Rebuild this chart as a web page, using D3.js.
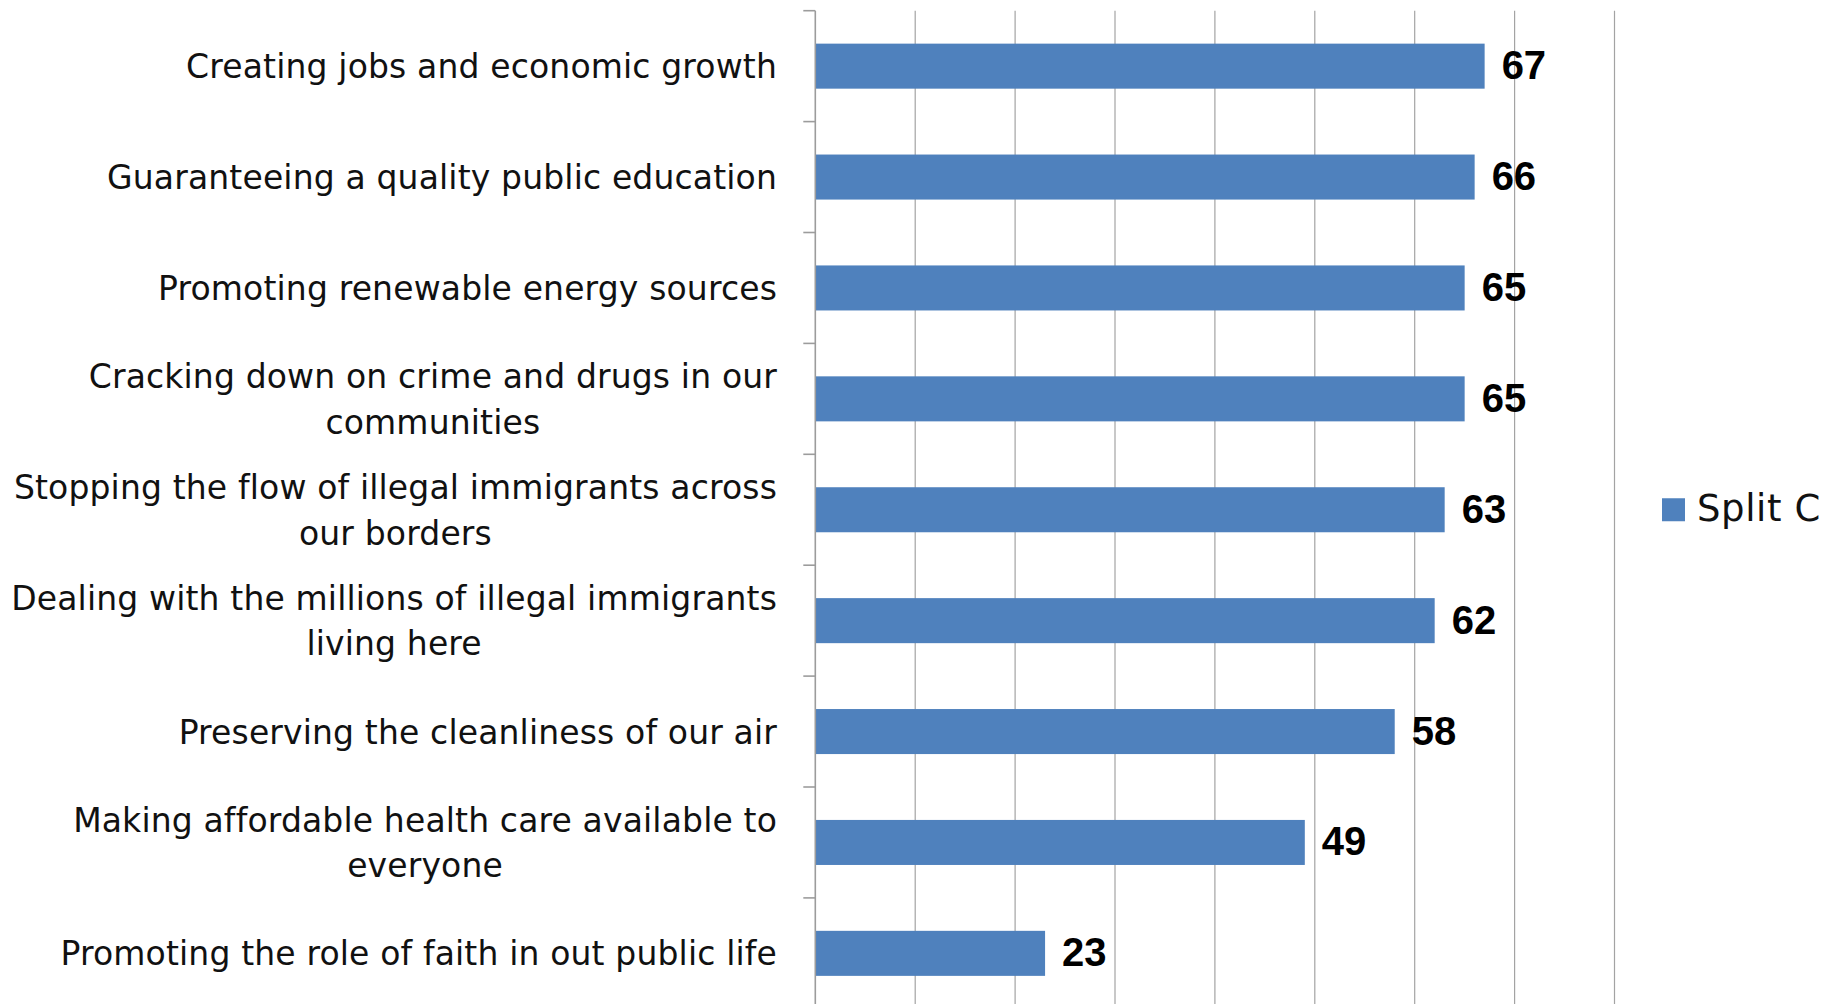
<!DOCTYPE html>
<html>
<head>
<meta charset="utf-8">
<script src="https://cdn.jsdelivr.net/npm/d3@7"></script>
<style>
  html, body { margin: 0; padding: 0; background: #fff; overflow: hidden; }
  svg { display: block; }
</style>
</head>
<body>
<svg id="chart" width="1839" height="1004"></svg>
<script>
// Issue priorities, share of respondents (Split C)
const categories = [
  "Creating jobs and economic growth",
  "Guaranteeing a quality public education",
  "Promoting renewable energy sources",
  "Cracking down on crime and drugs in our\ncommunities",
  "Stopping the flow of illegal immigrants across\nour borders",
  "Dealing with the millions of illegal immigrants\nliving here",
  "Preserving the cleanliness of our air",
  "Making affordable health care available to\neveryone",
  "Promoting the role of faith in out public life"
];
const splitC = [67, 66, 65, 65, 63, 62, 58, 49, 23];
const xTicks = [0, 10, 20, 30, 40, 50, 60, 70, 80];
const seriesName = "Split C";

const W = 1839, H = 1004;
const plot = { left: 815.3, right: 1614.5, top: 10.7, bottom: 1008.8 };
const barColor = "#4F81BD";
const gridColor = "#a3a3a3";
const labelFont = "'DejaVu Sans', sans-serif";
const valueFont = "'Liberation Sans', Arial, sans-serif";

const svg = d3.select("#chart");
svg.append("rect").attr("width", W).attr("height", H).attr("fill", "#fff");

const x = d3.scaleLinear().domain([0, 80]).range([plot.left, plot.right]);
const y = d3.scaleBand().domain(categories).range([plot.top, plot.bottom]).padding(0);
const barFrac = 0.406;

// vertical gridlines
svg.append("g").selectAll("line")
  .data(xTicks.filter(t => t > 0))
  .join("line")
  .attr("x1", d => x(d)).attr("x2", d => x(d))
  .attr("y1", plot.top).attr("y2", plot.bottom)
  .attr("stroke", gridColor).attr("stroke-width", 1.2);

// bars
const rows = categories.map((c, i) => ({ cat: c, value: splitC[i] }));
svg.append("g").selectAll("rect")
  .data(rows)
  .join("rect")
  .attr("x", x(0))
  .attr("y", d => y(d.cat) + y.bandwidth() * (1 - barFrac) / 2)
  .attr("width", d => x(d.value) - x(0))
  .attr("height", y.bandwidth() * barFrac)
  .attr("fill", barColor);

// category axis: line plus tick marks at slot boundaries
const axisG = svg.append("g");
axisG.append("line")
  .attr("x1", x(0)).attr("x2", x(0))
  .attr("y1", plot.top).attr("y2", plot.bottom)
  .attr("stroke", "#9c9c9c").attr("stroke-width", 1.6);
const bounds = categories.map(c => y(c)).concat([y.range()[1]]);
axisG.selectAll("line.tick")
  .data(bounds)
  .join("line")
  .attr("class", "tick")
  .attr("x1", x(0) - 12).attr("x2", x(0))
  .attr("y1", d => d).attr("y2", d => d)
  .attr("stroke", "#9c9c9c").attr("stroke-width", 1.6);

// category labels: wrapped lines centred within a right-aligned block
const labelRight = 777;
const lineGap = 45.5;
const labelG = svg.append("g")
  .attr("font-family", labelFont)
  .attr("font-size", 33)
  .attr("letter-spacing", 0.15)
  .attr("fill", "#111");
rows.forEach(r => {
  const lines = r.cat.split("\n");
  const cy = y(r.cat) + y.bandwidth() / 2;
  const t = labelG.append("text").attr("text-anchor", "middle");
  const spans = lines.map((ln, k) => t.append("tspan")
    .attr("y", cy + 12 + (k - (lines.length - 1) / 2) * lineGap)
    .text(ln));
  const maxW = d3.max(spans, s => s.node().getComputedTextLength());
  spans.forEach(s => s.attr("x", labelRight - maxW / 2));
});

// value labels
svg.append("g").selectAll("text")
  .data(rows)
  .join("text")
  .attr("x", d => x(d.value) + 17)
  .attr("y", d => y(d.cat) + y.bandwidth() / 2 + 13)
  .attr("font-family", valueFont)
  .attr("font-weight", "bold")
  .attr("font-size", 40)
  .attr("fill", "#000")
  .text(d => d.value);

// legend
const legCy = (plot.top + plot.bottom) / 2;
const leg = svg.append("g");
leg.append("rect")
  .attr("x", 1662).attr("y", legCy - 11.5)
  .attr("width", 23).attr("height", 23)
  .attr("fill", barColor);
leg.append("text")
  .attr("x", 1697).attr("y", legCy + 11)
  .attr("font-family", labelFont)
  .attr("font-size", 37)
  .attr("letter-spacing", 0.6)
  .attr("fill", "#111")
  .text(seriesName);
</script>
</body>
</html>
